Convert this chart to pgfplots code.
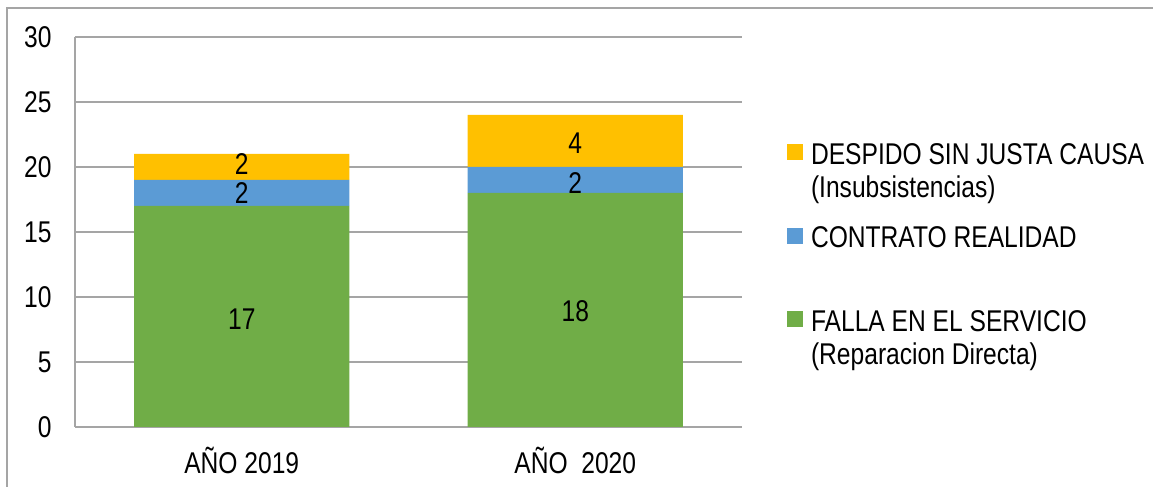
\documentclass[border=0pt]{standalone}
\usepackage{fontspec}
\setmainfont{Liberation Sans}[FakeStretch=0.82]
\usepackage{pgfplots}
\pgfplotsset{compat=1.18}
\definecolor{cgreen}{RGB}{112,173,71}
\definecolor{cblue}{RGB}{91,155,213}
\definecolor{cyellow}{RGB}{255,192,0}
\definecolor{cgrid}{RGB}{165,165,165}
\pgfplotsset{
  sqlegend/.style={legend image code/.code={%
    \fill[#1] (0pt,2pt) rectangle (8pt,10pt);
    \path[fill=none,draw=none] (0pt,2pt) rectangle (10pt,10pt);}},
  base/.style={
    at={(37.5pt,30pt)}, anchor=south west,
    scale only axis, width=333.5pt, height=195pt,
    xmin=-0.5, xmax=1.5, ymin=0, ymax=30}
}
\begin{document}
\fontsize{15}{16}\selectfont
\begin{tikzpicture}[x=1pt,y=1pt]
\useasboundingbox (0,0) rectangle (576.5,243.5);
\draw[cgrid, line width=0.8pt] (3.5,-2) -- (3.5,239.5) -- (580,239.5);
\begin{axis}[
  base,
  ybar stacked, bar width=0.645,
  xtick={0,1}, xticklabels={AÑO 2019, AÑO\ \ 2020},
  ytick={0,5,...,30},
  ymajorgrids, grid style={cgrid, line width=0.6pt},
  axis x line*=bottom, axis y line*=left,
  axis line style={cgrid, line width=0.8pt, -},
  major tick length=0pt, tick style={draw=none},
  /pgf/number format/assume math mode=true,
  tick label style={font=\fontsize{15}{16}\selectfont},
  yticklabel style={xshift=-6.5pt},
  xticklabel style={yshift=-5pt},
  legend style={draw=none, fill=none, inner sep=0pt, outer sep=0pt,
    at={(1.0675,0.7256)}, anchor=north west, row sep=27.5pt, column sep=0pt,
    cells={anchor=base west, inner sep=0pt},
    font=\fontsize{15}{16.5}\selectfont},
  reverse legend,
]
\addplot[fill=cgreen, draw=none, sqlegend=cgreen]
  coordinates {(0,17) (1,18)};
\addlegendentry{\smash{\begin{tabular}[t]{@{}l@{}}FALLA EN EL SERVICIO\\(Reparacion Directa)\end{tabular}}}
\addplot[fill=cblue, draw=none, sqlegend=cblue]
  coordinates {(0,2) (1,2)};
\addlegendentry{\smash{CONTRATO REALIDAD}}
\addplot[fill=cyellow, draw=none, sqlegend=cyellow]
  coordinates {(0,2) (1,4)};
\addlegendentry{\smash{\begin{tabular}[t]{@{}l@{}}DESPIDO SIN JUSTA CAUSA\\(Insubsistencias)\end{tabular}}}
\end{axis}
\begin{axis}[
  base, hide axis,
  nodes near coords, point meta=explicit symbolic,
  every node near coord/.append style={anchor=center, inner sep=0pt,
    font=\fontsize{15}{16}\selectfont, text=black},
]
\addplot[draw=none, mark=none, nodes near coords]
  coordinates {(0,8.3) [17] (1,8.9) [18] (0,18.0) [2] (1,18.8) [2] (0,20.2) [2] (1,21.8) [4]};
\end{axis}
\end{tikzpicture}
\end{document}
